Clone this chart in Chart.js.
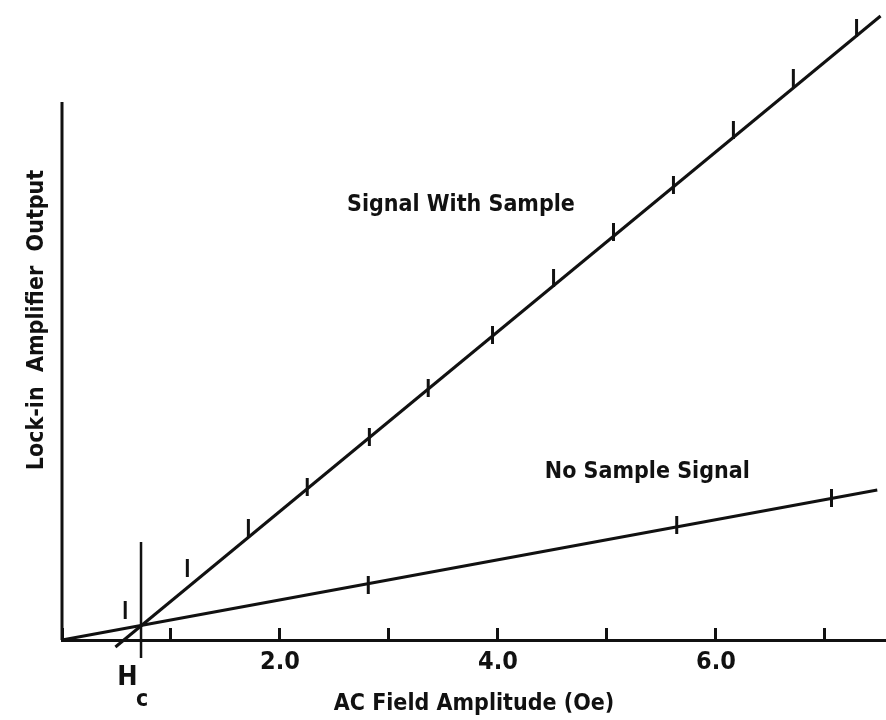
<!DOCTYPE html>
<html>
<head>
<meta charset="utf-8">
<script src="https://cdn.jsdelivr.net/npm/chart.js@4"></script>
<style>
  body { margin: 0; background: #fff; overflow: hidden; }
  #wrap { position: relative; width: 886px; height: 720px; }
</style>
</head>
<body>
<div id="wrap"><canvas id="chart"></canvas></div>
<script>
// AC field amplitude (Oe) vs lock-in output (arb. units)
var signalX = [0.58, 1.15, 1.71, 2.25, 2.82, 3.36, 3.95, 4.51, 5.06, 5.61, 6.16, 6.71, 7.29];
var signalY = [0.30, 0.72, 1.12, 1.53, 2.03, 2.52, 3.05, 3.62, 4.08, 4.55, 5.10, 5.62, 6.12];
var noSampleX = [2.81, 5.64, 7.06];
var noSampleY = [0.55, 1.15, 1.42];

// straight lines drawn through the points
var signalFitX = [0.49, 7.51];
var signalFitY = [-0.07, 6.24];
var noSampleFitX = [0, 7.48];
var noSampleFitY = [0, 1.50];

// critical field marker
var hc = 0.725;
var hcLineY = [-0.18, 0.98];

var xTicks = [0, 1, 2, 3, 4, 5, 6, 7];
var xLabels = { 2: "2.0", 4: "4.0", 6: "6.0" };
var yAxisTop = 5.38;

var FONT = '"Liberation Sans Narrow", "DejaVu Sans Condensed", "Roboto Condensed", "Liberation Sans", sans-serif';
var INK = '#111';

function toPoints(xs, ys) {
    return xs.map(function (x, i) { return { x: x, y: ys[i] }; });
}

function lineSet(points, width) {
    return {
        data: points,
        showLine: true,
        borderColor: INK,
        borderWidth: width,
        pointRadius: 0,
        clip: false
    };
}

function markerSet(points) {
    return {
        data: points,
        showLine: false,
        pointStyle: 'line',
        rotation: 90,
        pointRadius: 9,
        borderColor: INK,
        borderWidth: 3,
        clip: false
    };
}

// free text on the plot: curve names and H_c
var textLabels = {
    id: 'textLabels',
    afterDraw: function (chart) {
        var ctx = chart.ctx, x = chart.scales.x, y = chart.scales.y;
        ctx.save();
        ctx.fillStyle = INK;
        ctx.textAlign = 'center';
        ctx.textBaseline = 'middle';
        ctx.font = 'bold 23px ' + FONT;
        ctx.fillText('Signal With Sample', x.getPixelForValue(3.66), y.getPixelForValue(4.35));
        ctx.fillText('No Sample Signal', x.getPixelForValue(5.37), y.getPixelForValue(1.68));
        ctx.font = 'bold 27px ' + FONT;
        ctx.fillText('H', x.getPixelForValue(0.6), y.getPixelForValue(-0.38));
        ctx.font = 'bold 23px ' + FONT;
        ctx.fillText('c', x.getPixelForValue(0.735), y.getPixelForValue(-0.6));
        ctx.restore();
    }
};

var ctx = document.getElementById('chart').getContext('2d');
new Chart(ctx, {
    type: 'scatter',
    data: {
        datasets: [
            lineSet(toPoints(signalFitX, signalFitY), 3),
            lineSet(toPoints(noSampleFitX, noSampleFitY), 3),
            lineSet(toPoints([hc, hc], hcLineY), 2.5),
            lineSet(toPoints([0, 0], [0, yAxisTop]), 3),
            markerSet(toPoints(signalX, signalY)),
            markerSet(toPoints(noSampleX, noSampleY))
        ]
    },
    options: {
        responsive: true,
        maintainAspectRatio: false,
        animation: false,
        events: [],
        layout: { autoPadding: false, padding: 0 },
        plugins: {
            legend: { display: false },
            tooltip: { enabled: false }
        },
        scales: {
            x: {
                type: 'linear',
                min: 0,
                max: 7.56,
                afterBuildTicks: function (scale) {
                    scale.ticks = xTicks.map(function (v) { return { value: v }; });
                },
                afterFit: function (scale) { scale.height = 80; },
                ticks: {
                    color: INK,
                    padding: 19,
                    maxRotation: 0,
                    autoSkip: false,
                    font: { family: FONT, size: 25, weight: 'bold' },
                    callback: function (v) { return xLabels[v] || ''; }
                },
                grid: {
                    drawOnChartArea: false,
                    drawTicks: true,
                    tickLength: -12,
                    tickWidth: 3,
                    tickColor: INK
                },
                border: { display: true, color: INK, width: 3 },
                title: {
                    display: true,
                    text: 'AC Field Amplitude (Oe)',
                    color: INK,
                    font: { family: FONT, size: 23, weight: 'bold' },
                    padding: { top: 4, bottom: 2 }
                }
            },
            y: {
                type: 'linear',
                min: 0,
                max: 6.4,
                afterFit: function (scale) { scale.width = 62; },
                ticks: { display: false },
                grid: { display: false, drawTicks: false },
                border: { display: false },
                title: {
                    display: true,
                    text: 'Lock-in  Amplifier  Output',
                    color: INK,
                    font: { family: FONT, size: 23, weight: 'bold' },
                    padding: { top: 23, bottom: 10 }
                }
            }
        }
    },
    plugins: [textLabels]
});
</script>
</body>
</html>
